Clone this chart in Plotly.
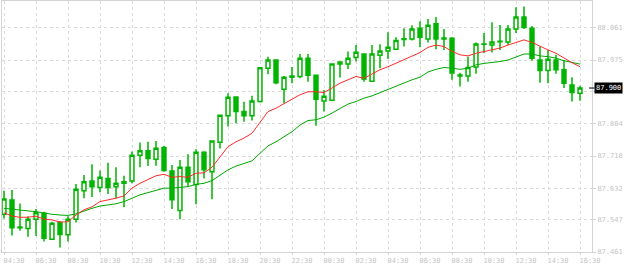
import plotly.graph_objects as go
import pandas as pd

# 30-minute bars from 04:30 (day 1) to 16:30 (day 2)
times = pd.date_range("2024-03-05 04:30", periods=73, freq="30min")

opens = [87.562, 87.600, 87.528, 87.524, 87.549, 87.565, 87.495, 87.540, 87.507, 87.549,
         87.625, 87.651, 87.634, 87.658, 87.636, 87.649, 87.651, 87.720, 87.732, 87.709,
         87.741, 87.678, 87.572, 87.688, 87.642, 87.728, 87.676, 87.755, 87.826, 87.876,
         87.837, 87.826, 87.864, 87.953, 87.975, 87.897, 87.929, 87.931, 87.980, 87.934,
         87.865, 87.867, 87.964, 87.964, 87.982, 87.991, 87.918, 87.988, 87.999, 88.004,
         88.030, 88.031, 88.060, 88.031, 88.072, 88.031, 88.033, 87.935, 87.932, 87.956,
         88.018, 88.015, 88.024, 88.023, 88.058, 88.090, 88.060, 87.975, 87.947, 87.975,
         87.949, 87.908, 87.886]
highs = [87.625, 87.627, 87.591, 87.557, 87.576, 87.569, 87.542, 87.544, 87.557, 87.643,
         87.667, 87.696, 87.679, 87.700, 87.688, 87.665, 87.730, 87.754, 87.756, 87.758,
         87.745, 87.694, 87.707, 87.723, 87.736, 87.731, 87.758, 87.828, 87.886, 87.876,
         87.863, 87.879, 87.956, 87.984, 87.975, 87.932, 87.956, 87.991, 87.991, 87.934,
         87.895, 87.965, 87.970, 87.998, 88.015, 87.993, 88.015, 88.017, 88.049, 88.036,
         88.060, 88.068, 88.079, 88.085, 88.090, 88.058, 88.036, 87.941, 87.984, 88.022,
         88.047, 88.076, 88.069, 88.069, 88.116, 88.118, 88.066, 88.011, 88.002, 87.989,
         87.975, 87.929, 87.906]
lows = [87.551, 87.505, 87.518, 87.502, 87.504, 87.489, 87.495, 87.473, 87.489, 87.540,
        87.605, 87.608, 87.621, 87.616, 87.605, 87.581, 87.645, 87.688, 87.691, 87.692,
        87.676, 87.576, 87.549, 87.636, 87.589, 87.658, 87.602, 87.738, 87.797, 87.806,
        87.810, 87.813, 87.861, 87.937, 87.910, 87.859, 87.913, 87.926, 87.917, 87.799,
        87.837, 87.865, 87.928, 87.951, 87.971, 87.917, 87.918, 87.953, 87.978, 88.002,
        88.011, 88.027, 88.009, 88.022, 88.004, 88.002, 87.922, 87.904, 87.917, 87.938,
        87.993, 87.995, 88.002, 88.015, 88.047, 88.058, 87.973, 87.914, 87.913, 87.938,
        87.900, 87.864, 87.866]
closes = [87.603, 87.526, 87.526, 87.549, 87.566, 87.498, 87.538, 87.508, 87.549, 87.629,
          87.649, 87.636, 87.661, 87.634, 87.645, 87.645, 87.720, 87.732, 87.711, 87.739,
          87.679, 87.601, 87.688, 87.649, 87.728, 87.681, 87.758, 87.827, 87.875, 87.837,
          87.826, 87.865, 87.954, 87.975, 87.914, 87.929, 87.932, 87.980, 87.934, 87.870,
          87.878, 87.964, 87.970, 87.980, 87.996, 87.924, 87.991, 87.999, 88.009, 88.027,
          88.032, 88.058, 88.036, 88.068, 88.031, 88.034, 87.940, 87.932, 87.955, 88.018,
          88.017, 88.023, 88.025, 88.058, 88.090, 88.062, 87.980, 87.947, 87.977, 87.949,
          87.913, 87.888, 87.900]

ma_fast = [87.566, 87.557, 87.554, 87.554, 87.557, 87.549, 87.547, 87.541, 87.542, 87.560,
           87.574, 87.582, 87.596, 87.600, 87.605, 87.611, 87.632, 87.645, 87.654, 87.665,
           87.669, 87.661, 87.663, 87.661, 87.672, 87.673, 87.688, 87.716, 87.743, 87.756,
           87.766, 87.779, 87.807, 87.837, 87.846, 87.859, 87.870, 87.882, 87.890, 87.890,
           87.888, 87.900, 87.913, 87.922, 87.931, 87.926, 87.938, 87.949, 87.957, 87.966,
           87.975, 87.984, 87.995, 88.009, 88.015, 88.011, 87.998, 87.989, 87.986, 87.993,
           87.998, 88.002, 88.007, 88.015, 88.023, 88.029, 88.022, 88.011, 88.002, 87.993,
           87.980, 87.968, 87.957]
ma_slow = [87.578, 87.575, 87.574, 87.571, 87.569, 87.565, 87.562, 87.560, 87.559, 87.563,
           87.571, 87.578, 87.584, 87.587, 87.590, 87.596, 87.605, 87.614, 87.620, 87.627,
           87.632, 87.632, 87.633, 87.636, 87.642, 87.645, 87.652, 87.667, 87.681, 87.691,
           87.697, 87.705, 87.725, 87.745, 87.756, 87.770, 87.783, 87.801, 87.813, 87.815,
           87.822, 87.833, 87.846, 87.857, 87.864, 87.873, 87.879, 87.888, 87.897, 87.904,
           87.913, 87.922, 87.929, 87.943, 87.950, 87.955, 87.953, 87.950, 87.953, 87.962,
           87.966, 87.968, 87.971, 87.975, 87.984, 87.991, 87.991, 87.986, 87.984, 87.980,
           87.973, 87.968, 87.964]

y_ticks = [87.461, 87.547, 87.632, 87.718, 87.804, 87.890, 87.975, 88.061]
y_labels = ["87.461", "87.547", "87.632", "87.718", "87.804", "", "87.975", "88.061"]
last_price = 87.900
last_label = "87.900"

CANDLE = "#00b400"
GRID = "#dadada"
AXIS = "#d4d4d4"
TXT = "#c4c4c4"
FONT = "DejaVu Sans Mono"

fig = go.Figure()
fig.add_trace(go.Candlestick(
    x=times, open=opens, high=highs, low=lows, close=closes,
    increasing=dict(line=dict(color=CANDLE, width=1.5), fillcolor="white"),
    decreasing=dict(line=dict(color=CANDLE, width=1.5), fillcolor=CANDLE),
    whiskerwidth=0, showlegend=False, hoverinfo="skip",
))
fig.add_trace(go.Scatter(x=times, y=ma_slow, mode="lines",
                         line=dict(color="#00a800", width=1), showlegend=False, hoverinfo="skip"))
fig.add_trace(go.Scatter(x=times, y=ma_fast, mode="lines",
                         line=dict(color="#ff2a2a", width=1), showlegend=False, hoverinfo="skip"))

half = pd.Timedelta(minutes=30)
x_range = [times[0] - 0.25 * half, times[-1] + 1.5 * half]

fig.update_layout(
    width=624, height=266,
    margin=dict(l=2, r=32, t=1, b=14),
    paper_bgcolor="white", plot_bgcolor="white",
    font=dict(family=FONT, size=7, color=TXT),
    showlegend=False,
    xaxis=dict(
        type="date", range=x_range, rangeslider=dict(visible=False),
        tick0=times[0], dtick=2 * 3600 * 1000, tickformat="%H:%M",
        showgrid=True, gridcolor=GRID, griddash="3px,3px", gridwidth=1,
        showline=True, linecolor=AXIS, linewidth=1, mirror=True,
        ticks="outside", ticklen=2, tickcolor=AXIS,
        tickfont=dict(family=FONT, size=7, color=TXT),
        ticklabelshift=10, automargin=False, fixedrange=True,
    ),
    yaxis=dict(
        side="right", range=[87.461, 88.133],
        tickvals=y_ticks, ticktext=y_labels,
        showgrid=True, gridcolor=GRID, griddash="3px,3px", gridwidth=1,
        showline=True, linecolor=AXIS, linewidth=1, mirror=True,
        ticks="outside", ticklen=3, tickcolor=AXIS,
        tickfont=dict(family=FONT, size=7, color=TXT),
        automargin=False, zeroline=False, fixedrange=True,
    ),
)

fig.add_shape(type="line", xref="paper", yref="y", x0=0.995, x1=1.004,
              y0=last_price, y1=last_price, line=dict(color="black", width=1))
fig.add_annotation(xref="paper", yref="y", x=1, y=last_price, xanchor="left", yanchor="middle",
                   xshift=2, text=last_label, showarrow=False,
                   font=dict(family=FONT, size=7, color="white"),
                   bgcolor="black", borderpad=1)

fig.write_html("out.html")
